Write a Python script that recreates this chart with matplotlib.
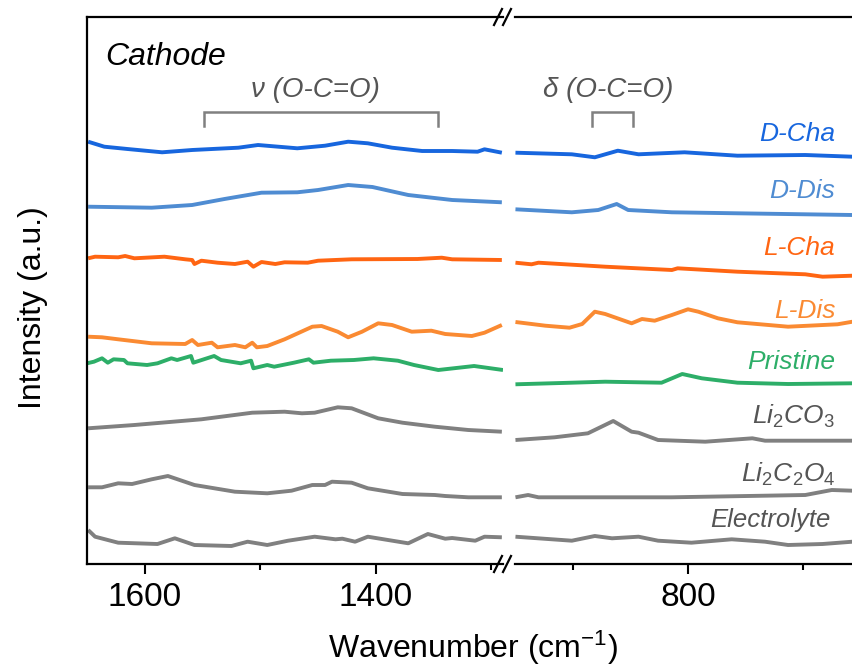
import matplotlib
matplotlib.use("Agg")
import matplotlib.pyplot as plt
from matplotlib.lines import Line2D

plt.rcParams['font.family'] = ['Liberation Sans', 'DejaVu Sans']
plt.rcParams['mathtext.fontset'] = 'custom'
plt.rcParams['mathtext.rm'] = 'Liberation Sans'
plt.rcParams['mathtext.it'] = 'Liberation Sans:italic'

# ---------------- data (intensities include stacking offsets) -------------
# high-wavenumber panel (left)
dcha_wn_hi = [1649, 1635, 1615, 1585, 1559, 1519, 1502, 1468, 1444, 1424, 1407, 1386, 1360, 1334, 1312, 1306, 1291]
dcha_y_hi = [422.3, 417.3, 415, 411.7, 414, 416.3, 419, 415.7, 418.3, 422.3, 420.7, 416.3, 413, 413, 412.3, 414.7, 411.3]
ddis_wn_hi = [1649, 1594, 1559, 1531, 1499, 1468, 1450, 1424, 1403, 1372, 1334, 1291]
ddis_y_hi = [357.3, 356.3, 359, 365, 371.3, 371.7, 374, 379, 377, 369, 364, 361.7]
lcha_wn_hi = [1649, 1643, 1623, 1617, 1609, 1583, 1565, 1559, 1557, 1551, 1537, 1522, 1511, 1506, 1499, 1487,
              1479, 1459, 1450, 1421, 1364, 1343, 1334, 1291]
lcha_y_hi = [305.7, 307.3, 306.7, 308, 305.7, 307.3, 304.7, 304, 300, 303.3, 301.3, 300, 302.3, 297.3, 302, 300,
             301.7, 301.3, 303.3, 304.7, 305, 306.3, 304.7, 304]
ldis_wn_hi = [1649, 1637, 1623, 1594, 1565, 1559, 1554, 1542, 1537, 1522, 1513, 1507, 1503, 1494, 1479, 1455,
              1447, 1433, 1424, 1412, 1398, 1386, 1369, 1352, 1340, 1317, 1306, 1291]
ldis_y_hi = [227.3, 226.7, 224.7, 220.7, 220, 224, 219, 221.3, 216.7, 219, 216.7, 221.3, 216.7, 218, 224.7, 237.3,
             238, 232.3, 226.7, 232.3, 240.7, 239, 232.3, 233.3, 230, 228, 231.3, 239]
pris_wn_hi = [1650, 1644, 1637, 1632, 1627, 1618, 1615, 1598, 1589, 1577, 1572, 1560, 1558, 1540, 1534, 1517,
              1508, 1506, 1494, 1488, 1471, 1458, 1454, 1439, 1419, 1402, 1381, 1367, 1346, 1315, 1290]
pris_y_hi = [200.7, 202.3, 205.7, 201.3, 204.7, 204, 200.7, 199, 200.7, 205.7, 204, 208, 201.3, 208, 204, 200.7,
             203.3, 195.7, 199, 197.3, 201.3, 204.7, 201.3, 203.3, 204, 205.7, 203.3, 199, 194, 198, 194]
lco_wn_hi = [1649, 1609, 1551, 1507, 1479, 1464, 1453, 1433, 1421, 1398, 1377, 1349, 1320, 1291]
lco_y_hi = [135.7, 139, 144.7, 151.3, 152.3, 150.7, 151.3, 156.7, 155.7, 145.7, 141.3, 137.3, 134, 132.3]
lox_wn_hi = [1649, 1637, 1623, 1611, 1594, 1580, 1557, 1522, 1494, 1473, 1455, 1444, 1438, 1421, 1407, 1377,
             1349, 1340, 1320, 1291]
lox_y_hi = [76.7, 76.7, 80.7, 80, 84.7, 88, 79, 72.3, 70.7, 73.3, 79, 79, 82.3, 81.3, 75.7, 70,
            69, 68, 66.7, 66.7]
ele_wn_hi = [1649, 1643, 1623, 1589, 1574, 1557, 1525, 1511, 1494, 1476, 1453, 1435, 1429, 1418, 1407, 1372,
             1355, 1340, 1334, 1314, 1306, 1291]
ele_y_hi = [34, 27.3, 21.3, 20, 25.7, 19, 18, 22.3, 19, 23.3, 27.3, 24.7, 25.3, 22.3, 27.3, 20.7,
            30, 25.3, 26, 23.3, 27.3, 26.7]

# low-wavenumber panel (right)
dcha_wn_lo = [950, 901, 881, 861, 843, 803, 757, 698, 657]
dcha_y_lo = [411.3, 409.7, 406.7, 413.3, 409.7, 411.7, 408.3, 409, 407.3]
ddis_wn_lo = [950, 901, 878, 862, 852, 814, 757, 698, 657]
ddis_y_lo = [354.7, 351.7, 354, 360, 354, 351.7, 350.7, 349.7, 349]
lcha_wn_lo = [950, 936, 930, 872, 814, 809, 757, 698, 683, 657]
lcha_y_lo = [301.3, 299.7, 301.3, 297.3, 294, 295.7, 292.3, 289.7, 287.3, 288.3]
ldis_wn_lo = [950, 924, 903, 892, 881, 872, 849, 840, 829, 814, 800, 791, 774, 757, 713, 670, 657]
ldis_y_lo = [242, 238.3, 236.3, 240, 252.3, 250, 240.7, 245, 243.3, 249, 254.7, 252.3, 245.7, 241.7, 237.3, 239.7, 242.3]
pris_wn_lo = [950, 901, 872, 823, 805, 788, 757, 713, 657]
pris_y_lo = [179.7, 181.3, 182.3, 181.3, 190, 185.7, 181.3, 180, 180.7]
lco_wn_lo = [950, 916, 887, 865, 849, 843, 826, 785, 744, 733, 657]
lco_y_lo = [124, 126.7, 130.7, 143, 132.3, 131.3, 124, 122.3, 125.7, 123.3, 123.3]
lox_wn_lo = [950, 939, 930, 814, 698, 675, 657]
lox_y_lo = [66.7, 69, 66.7, 66.7, 69, 74, 73.3]
ele_wn_lo = [950, 901, 881, 866, 843, 826, 797, 762, 733, 713, 683, 657]
ele_y_lo = [27.3, 23.3, 28, 25.7, 27.3, 23.3, 21.3, 24.7, 22.3, 19, 20, 22.3]

labels = ['D-Cha', 'D-Dis', 'L-Cha', 'L-Dis', 'Pristine',
          r'Li$_{\mathit{2}}$CO$_{\mathit{3}}$', r'Li$_{\mathit{2}}$C$_{\mathit{2}}$O$_{\mathit{4}}$', 'Electrolyte']
label_y = [430, 373, 316, 253, 202, 148, 90, 44]

colors = ['#1766DE', '#4F8CD2', '#FF6512', '#FA8A32', '#2DAE68', '#808080', '#808080', '#808080']
label_colors = ['#1766DE', '#4F8CD2', '#FF6512', '#FA8A32', '#2DAE68', '#555555', '#555555', '#555555']

series_hi = [(dcha_wn_hi, dcha_y_hi), (ddis_wn_hi, ddis_y_hi), (lcha_wn_hi, lcha_y_hi), (ldis_wn_hi, ldis_y_hi),
             (pris_wn_hi, pris_y_hi), (lco_wn_hi, lco_y_hi), (lox_wn_hi, lox_y_hi), (ele_wn_hi, ele_y_hi)]
series_lo = [(dcha_wn_lo, dcha_y_lo), (ddis_wn_lo, ddis_y_lo), (lcha_wn_lo, lcha_y_lo), (ldis_wn_lo, ldis_y_lo),
             (pris_wn_lo, pris_y_lo), (lco_wn_lo, lco_y_lo), (lox_wn_lo, lox_y_lo), (ele_wn_lo, ele_y_lo)]

# ---------------- figure ----------------
W, H = 852, 671
fig = plt.figure(figsize=(W / 100, H / 100), dpi=100)

def fx(px):
    return px / W

def fy(py):
    return 1 - py / H

ax1 = fig.add_axes([fx(87), fy(564), fx(503) - fx(87), fy(17) - fy(564)])
ax2 = fig.add_axes([fx(515), fy(564), fx(852) - fx(515), fy(17) - fy(564)])

for ax, series in ((ax1, series_hi), (ax2, series_lo)):
    for (wn, y), c in zip(series, colors):
        ax.plot(wn, y, color=c, lw=2.8, solid_joinstyle='round', solid_capstyle='butt')
    ax.set_ylim(0, 547)
    ax.set_yticks([])
    for s in ax.spines.values():
        s.set_linewidth(1.6)
    ax.tick_params(axis='x', which='major', direction='out', length=7, width=1.5, labelsize=24, pad=6)
    ax.tick_params(axis='x', which='minor', direction='out', length=4, width=1.5)

ax1.set_xlim(1650, 1290)
ax1.set_xticks([1600, 1400])
ax1.set_xticks([1500, 1300], minor=True)
ax1.spines['right'].set_visible(False)

ax2.set_xlim(950.4, 657.4)
ax2.set_xticks([800])
ax2.set_xticks([900, 700], minor=True)
ax2.spines['left'].set_visible(False)
ax2.spines['right'].set_visible(False)

# sample labels
for lab, ly, lc in zip(labels, label_y, label_colors):
    if lab == 'Electrolyte':
        ax2.text(676, ly, lab, color=lc, fontsize=18.5, style='italic', ha='right', va='center')
    else:
        ax2.text(672, ly, lab, color=lc, fontsize=19, style='italic', ha='right', va='center')

# Cathode
ax1.text(0.045, 0.955, 'Cathode', transform=ax1.transAxes, fontsize=23, style='italic',
         ha='left', va='top', color='black')

# vibration band annotations
br_col = '#808080'
ax1.plot([1549, 1549, 1346, 1346], [438, 452, 452, 438], color=br_col, lw=1.8, solid_joinstyle='miter')
ax1.text(1452, 474, 'ν (O-C=O)', color='#555555', fontsize=20, style='italic', ha='center', va='center')
ax2.plot([883.5, 883.5, 848, 848], [438, 452, 452, 438], color=br_col, lw=1.8, solid_joinstyle='miter')
ax2.text(869, 474, 'δ (O-C=O)', color='#555555', fontsize=20, style='italic', ha='center', va='center')

# axis break marks
for xa in (494, 503):
    for yc in (564, 17):
        fig.add_artist(Line2D([fx(xa), fx(xa + 8)], [fy(yc + 8), fy(yc - 8)],
                              color='black', lw=1.6, transform=fig.transFigure))

# axis labels
fig.text(fx(33), fy(308), 'Intensity (a.u.)', rotation=90, fontsize=23, ha='center', va='center')
fig.text(fx(473), fy(648), r'Wavenumber (cm$^{\mathrm{-1}}$)', fontsize=23, ha='center', va='center')

fig.savefig('out.png', dpi=100)
